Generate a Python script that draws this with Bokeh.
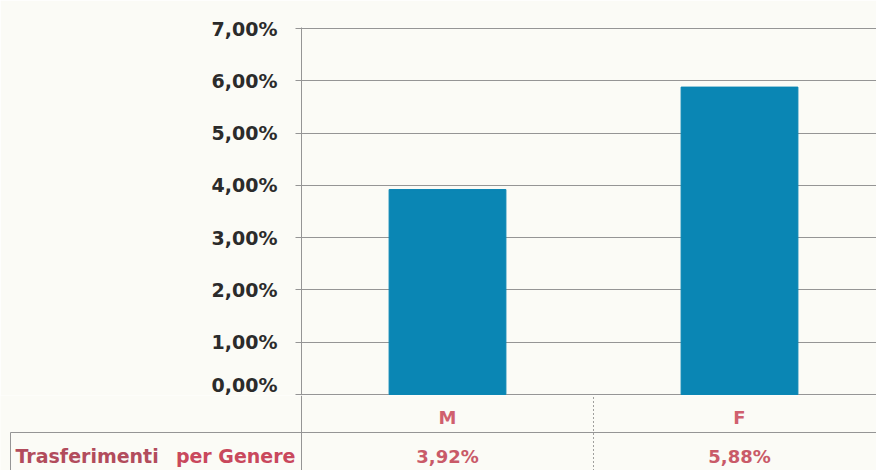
from bokeh.plotting import figure
from bokeh.layouts import column
from bokeh.models import Range1d, FixedTicker
from bokeh.core.properties import value
from bokeh.embed import file_html
from bokeh.resources import INLINE

# ---- data ----
categories = ["M", "F"]
values = [3.92, 5.88]            # percent
value_labels = ["3,92%", "5,88%"]
y_ticks = [0, 1, 2, 3, 4, 5, 6, 7]
y_tick_labels = ["0,00%", "1,00%", "2,00%", "3,00%", "4,00%", "5,00%", "6,00%", "7,00%"]
row_title_a = "Trasferimenti"
row_title_b = "per Genere"

# ---- style / layout ----
W, H = 876, 470
LEFT = 301
CHART_H = 395
TABLE_H = H - CHART_H
CAT_PX = 292
BG = "#fbfbf6"
GRID = "#959595"
BAR = "#0a86b4"
FONT = "DejaVu Sans"
FS = "18px"
FS_BIG = "19px"

xs = [i + 0.5 for i in range(len(categories))]
x0, x1 = 0, (W - LEFT) / CAT_PX

# ---------------- chart ----------------
p = figure(width=W, height=CHART_H, x_range=Range1d(x0, x1), y_range=Range1d(-0.02, 7.02),
           output_backend="svg", toolbar_location=None,
           min_border_left=LEFT, min_border_right=0, min_border_top=27,
           min_border_bottom=0, background_fill_color=BG, border_fill_color=BG,
           outline_line_color=None, x_axis_location=None, frame_align=False)

p.vbar(x=xs, top=values, width=0.4, fill_color=BAR, line_color=BAR)

yax = p.yaxis[0]
yax.ticker = FixedTicker(ticks=y_ticks)
yax.major_label_overrides = dict(zip(y_ticks, y_tick_labels))
yax.axis_line_color = GRID
yax.major_tick_line_color = GRID
yax.major_tick_in = 0
yax.major_tick_out = 6
yax.minor_tick_line_color = None
yax.major_label_standoff = 18
yax.major_label_text_font = FONT
yax.major_label_text_font_style = "bold"
yax.major_label_text_font_size = FS_BIG
yax.major_label_text_color = "#2b2b2b"

p.ygrid.ticker = FixedTicker(ticks=y_ticks)
p.ygrid.grid_line_color = GRID
p.xgrid.visible = False

# ---------------- data table ----------------
t = figure(width=W, height=TABLE_H, x_range=Range1d(x0 - LEFT / CAT_PX, x1),
           y_range=Range1d(0, TABLE_H), output_backend="svg", toolbar_location=None,
           min_border=0, min_border_left=0, min_border_right=0, min_border_top=0,
           min_border_bottom=0, background_fill_color=BG, border_fill_color=BG,
           outline_line_color=None, x_axis_location=None, y_axis_location=None,
           frame_align=False)
t.xgrid.visible = False
t.ygrid.visible = False

row_mid = 38
box_left = x0 - (LEFT - 10) / CAT_PX
# horizontal line between rows, extending into the legend box
t.segment(x0=[box_left], y0=[row_mid], x1=[x1], y1=[row_mid], line_color=GRID, line_width=1)
# left edge of legend box
t.segment(x0=[box_left], y0=[0], x1=[box_left], y1=[row_mid], line_color=GRID, line_width=1)
# continuation of the value axis
t.segment(x0=[x0], y0=[0], x1=[x0], y1=[TABLE_H], line_color=GRID, line_width=1)
# dotted category separators
seps = [i + 1.0 for i in range(len(categories) - 1)]
t.segment(x0=seps, y0=[0] * len(seps), x1=seps, y1=[TABLE_H] * len(seps),
          line_color="#444444", line_width=1, line_dash="1 3")

t.text(x=xs, y=[53] * len(xs), text=categories, text_align="center",
       text_baseline="middle", text_font=value(FONT), text_font_style="bold",
       text_font_size=FS, text_color="#d0606e")
t.text(x=xs, y=[14] * len(xs), text=value_labels, text_align="center",
       text_baseline="middle", text_font=value(FONT), text_font_style="bold",
       text_font_size=FS, text_color="#c95a68")
t.text(x=[x0 - (LEFT - 15) / CAT_PX], y=[15], text=[row_title_a], text_align="left",
       text_baseline="middle", text_font=value(FONT), text_font_style="bold",
       text_font_size=FS_BIG, text_color="#b24c5c")
t.text(x=[x0 - 6 / CAT_PX], y=[15], text=[row_title_b], text_align="right",
       text_baseline="middle", text_font=value(FONT), text_font_style="bold",
       text_font_size=FS_BIG, text_color="#c9485c")

layout = column(p, t, spacing=0)
open("out.html", "w").write(file_html(layout, INLINE))
